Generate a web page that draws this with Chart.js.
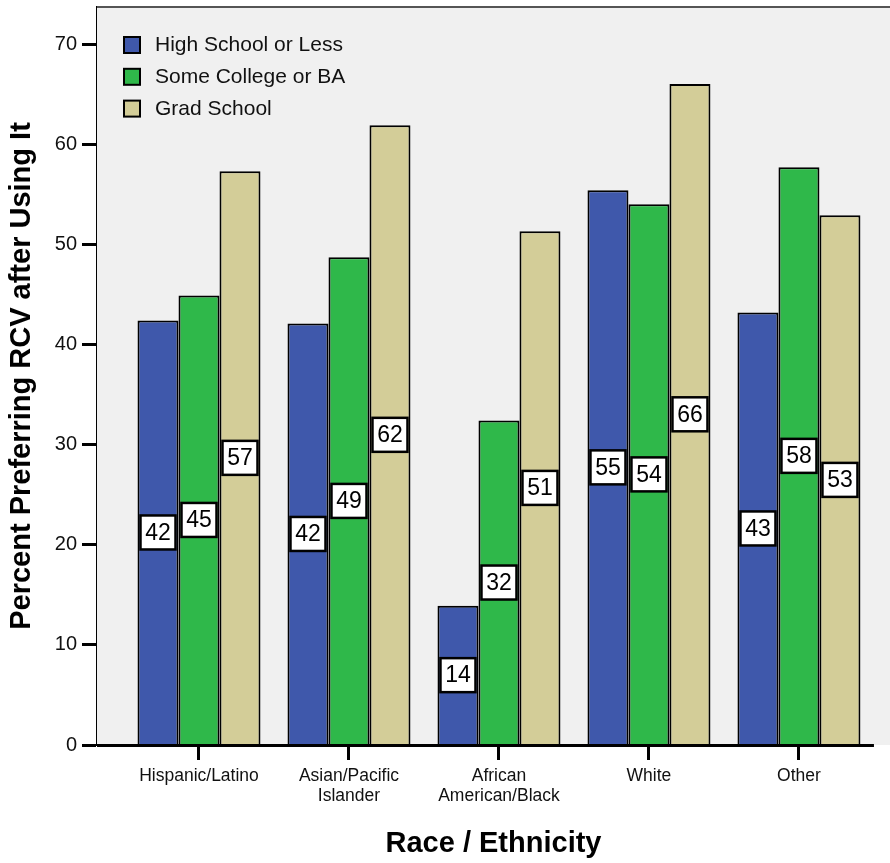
<!DOCTYPE html>
<html>
<head>
<meta charset="utf-8">
<title>Percent Preferring RCV after Using It</title>
<script src="https://cdn.jsdelivr.net/npm/chart.js@4.4.1/dist/chart.umd.min.js"></script>
<style>
  html, body { margin: 0; padding: 0; background: #fff; }
  #wrap { width: 890px; height: 863px; }
</style>
</head>
<body>
<div id="wrap"><canvas id="rcvChart" width="890" height="863"></canvas></div>
<script>
// data
const categories = ["Hispanic/Latino", ["Asian/Pacific", "Islander"], ["African", "American/Black"], "White", "Other"];
const seriesNames = ["High School or Less", "Some College or BA", "Grad School"];
const highSchool = [42.4, 42.1, 13.9, 55.4, 43.2];
const someCollege = [44.9, 48.7, 32.4, 54.0, 57.7];
const gradSchool = [57.3, 61.9, 51.3, 66.0, 52.9];
const yTicks = [0, 10, 20, 30, 40, 50, 60, 70];

const colors = ["#3f58ab", "#2fb84a", "#d3cd98"];
const FONT = "'Liberation Sans', Arial, Helvetica, sans-serif";

// bars sit on a linear index axis so the plot can have uneven side margins
const toPoints = (arr) => arr.map((v, i) => ({ x: i, y: v }));

// plot background + top line + bottom axis line
const plotFrame = {
    id: "plotFrame",
    beforeDatasetsDraw(chart) {
        const { ctx, chartArea: a } = chart;
        ctx.save();
        ctx.fillStyle = "#f0f0f0";
        ctx.fillRect(a.left, a.top, a.right - a.left, a.bottom - a.top);
        ctx.strokeStyle = "#555";
        ctx.lineWidth = 2;
        ctx.beginPath();
        ctx.moveTo(a.left, a.top);
        ctx.lineTo(a.right, a.top);
        ctx.stroke();
        ctx.restore();
    },
    afterDatasetsDraw(chart) {
        const { ctx, chartArea: a, scales } = chart;
        const xEnd = scales.x.getPixelForValue(categories.length - 0.5);
        ctx.save();
        ctx.strokeStyle = "#000";
        ctx.lineWidth = 3;
        ctx.beginPath();
        ctx.moveTo(a.left, a.bottom + 0.5);
        ctx.lineTo(xEnd, a.bottom + 0.5);
        ctx.stroke();
        ctx.restore();
    },
};

// white value boxes in the middle of each bar
const valueBoxes = {
    id: "valueBoxes",
    afterDatasetsDraw(chart) {
        const { ctx } = chart;
        ctx.save();
        ctx.font = "23px " + FONT;
        ctx.textAlign = "center";
        ctx.textBaseline = "middle";
        chart.data.datasets.forEach((ds, di) => {
            const meta = chart.getDatasetMeta(di);
            meta.data.forEach((bar, i) => {
                const label = String(Math.round(ds.data[i].y));
                const cx = bar.x;
                const cy = (bar.y + bar.base) / 2;
                const w = 35, h = 34;
                ctx.fillStyle = "#fff";
                ctx.fillRect(cx - w / 2, cy - h / 2, w, h);
                ctx.strokeStyle = "#000";
                ctx.lineWidth = 2.5;
                ctx.strokeRect(cx - w / 2, cy - h / 2, w, h);
                ctx.fillStyle = "#000";
                ctx.fillText(label, cx, cy + 1);
            });
        });
        ctx.restore();
    },
};

// legend drawn inside the plot, top left
const innerLegend = {
    id: "innerLegend",
    afterDraw(chart) {
        const { ctx, chartArea: a } = chart;
        ctx.save();
        ctx.font = "21px " + FONT;
        ctx.textBaseline = "middle";
        ctx.textAlign = "left";
        chart.data.datasets.forEach((ds, i) => {
            const bx = a.left + 27;
            const by = a.top + 30 + i * 31.8;
            ctx.fillStyle = ds.backgroundColor;
            ctx.fillRect(bx, by, 16, 16);
            ctx.strokeStyle = "#000";
            ctx.lineWidth = 2;
            ctx.strokeRect(bx, by, 16, 16);
            ctx.fillStyle = "#111";
            ctx.fillText(ds.label, a.left + 58, by + 8.5);
        });
        ctx.restore();
    },
};

new Chart(document.getElementById("rcvChart"), {
    type: "bar",
    data: {
        datasets: [
            { label: seriesNames[0], data: toPoints(highSchool), backgroundColor: colors[0] },
            { label: seriesNames[1], data: toPoints(someCollege), backgroundColor: colors[1] },
            { label: seriesNames[2], data: toPoints(gradSchool), backgroundColor: colors[2] },
        ],
    },
    options: {
        responsive: false,
        animation: false,
        devicePixelRatio: 1,
        layout: { padding: { top: 7, right: 0, left: 0, bottom: 0 } },
        datasets: {
            bar: {
                borderColor: "#000",
                borderWidth: 2,
                barPercentage: 1,
                categoryPercentage: 0.82,
            },
        },
        plugins: {
            legend: { display: false },
            tooltip: { enabled: false },
        },
        scales: {
            x: {
                type: "linear",
                min: -0.68,
                max: 4.607,
                offset: false,
                afterBuildTicks: (s) => {
                    s.ticks = categories.map((c, i) => ({ value: i }));
                },
                afterFit: (s) => {
                    s.height = 118;
                    s.paddingLeft = 0;
                    s.paddingRight = 0;
                },
                ticks: {
                    callback: (v) => categories[v],
                    autoSkip: false,
                    maxRotation: 0,
                    padding: 6,
                    color: "#111",
                    font: { family: FONT, size: 17.5, lineHeight: 1.15 },
                },
                grid: {
                    offset: false,
                    drawOnChartArea: false,
                    drawTicks: true,
                    tickLength: 15,
                    tickWidth: 3,
                    tickColor: "#000",
                },
                border: { display: false },
                title: {
                    display: true,
                    text: "Race / Ethnicity",
                    color: "#000",
                    font: { family: FONT, size: 29, weight: "bold" },
                    padding: { top: 0, bottom: 2 },
                },
            },
            y: {
                min: 0,
                max: 73.7,
                afterBuildTicks: (s) => {
                    s.ticks = yTicks.map((v) => ({ value: v }));
                },
                afterFit: (s) => {
                    s.width = 97;
                    s.paddingTop = 0;
                    s.paddingBottom = 0;
                },
                ticks: {
                    padding: 5,
                    color: "#111",
                    font: { family: FONT, size: 20 },
                },
                grid: {
                    drawOnChartArea: false,
                    drawTicks: true,
                    tickLength: 15,
                    tickWidth: 3,
                    tickColor: "#000",
                },
                border: { display: true, color: "#000", width: 2 },
                title: {
                    display: true,
                    text: "Percent Preferring RCV after Using It",
                    color: "#000",
                    font: { family: FONT, size: 29, weight: "bold" },
                    padding: { top: 5, bottom: 0 },
                },
            },
        },
    },
    plugins: [plotFrame, valueBoxes, innerLegend],
});
</script>
</body>
</html>
